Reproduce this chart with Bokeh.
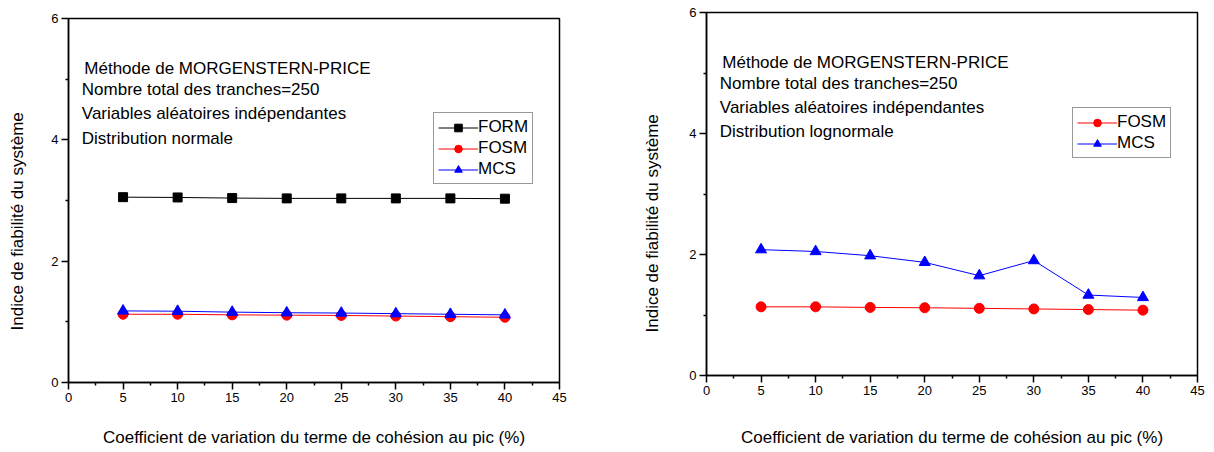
from bokeh.plotting import figure
from bokeh.layouts import row
from bokeh.models import FixedTicker, Label, Legend, LegendItem, Title
from bokeh.embed import file_html
from bokeh.resources import INLINE

# ---- data ----
cov = [5, 10, 15, 20, 25, 30, 35, 40]

# left chart : Distribution normale
left_form = [3.055, 3.05, 3.04, 3.035, 3.035, 3.035, 3.035, 3.03]
left_fosm = [1.125, 1.125, 1.115, 1.11, 1.105, 1.095, 1.085, 1.075]
left_mcs = [1.18, 1.175, 1.16, 1.15, 1.145, 1.135, 1.125, 1.115]

# right chart : Distribution lognormale
right_fosm = [1.135, 1.135, 1.125, 1.12, 1.11, 1.10, 1.09, 1.08]
right_mcs = [2.08, 2.05, 1.98, 1.87, 1.65, 1.90, 1.33, 1.29]

x_ticks = [0, 5, 10, 15, 20, 25, 30, 35, 40, 45]
x_minor = [2.5, 7.5, 12.5, 17.5, 22.5, 27.5, 32.5, 37.5, 42.5]
y_ticks = [0, 2, 4, 6]
y_minor = [1, 3, 5]

x_title = "Coefficient de variation du terme de cohésion au pic (%)"
y_title = "Indice de fiabilité du système"
notes_left = ["Méthode  de MORGENSTERN-PRICE", "Nombre total des tranches=250",
              "Variables aléatoires indépendantes", "Distribution normale"]
notes_right = ["Méthode  de MORGENSTERN-PRICE", "Nombre total des tranches=250",
               "Variables aléatoires indépendantes", "Distribution lognormale"]

FONT = "Liberation Sans"


def base_fig(width, bl, br, bt, bb, xlab_standoff):
    p = figure(width=width, height=452, x_range=(0, 45), y_range=(0, 6),
               output_backend="svg", toolbar_location=None,
               min_border_left=bl, min_border_right=br,
               min_border_top=bt, min_border_bottom=bb)
    p.frame_align = False
    p.grid.visible = False
    p.outline_line_color = "black"
    p.outline_line_width = 1.5
    p.background_fill_color = "white"
    p.border_fill_color = "white"
    p.xaxis.ticker = FixedTicker(ticks=x_ticks, minor_ticks=x_minor)
    p.yaxis.ticker = FixedTicker(ticks=y_ticks, minor_ticks=y_minor)
    for ax in (p.xaxis[0], p.yaxis[0]):
        ax.axis_line_width = 1.5
        ax.axis_line_color = "black"
        ax.major_tick_line_color = "black"
        ax.minor_tick_line_color = "black"
        ax.major_tick_line_width = 1.5
        ax.minor_tick_line_width = 1.5
        ax.major_tick_out = 7
        ax.major_tick_in = 0
        ax.minor_tick_out = 3
        ax.minor_tick_in = 0
        ax.major_label_text_font = FONT
        ax.major_label_text_font_size = "13px"
        ax.major_label_text_color = "black"
        ax.major_label_standoff = 3
    p.xaxis.axis_label = x_title
    p.xaxis.axis_label_text_font = FONT
    p.xaxis.axis_label_text_font_size = "17px"
    p.xaxis.axis_label_text_font_style = "normal"
    p.xaxis.axis_label_text_color = "black"
    p.xaxis.axis_label_standoff = xlab_standoff
    return p


def add_notes(p, notes):
    ys = [5.17, 4.83, 4.43, 4.03]
    xs = [1.45, 1.22, 1.22, 1.22]
    for t, x, y in zip(notes, xs, ys):
        p.add_layout(Label(x=x, y=y, text=t, text_font=FONT, text_font_size="17px",
                           text_baseline="middle", text_align="left", text_color="black"))


def add_ylabel(p, standoff, offset, valign):
    p.add_layout(Title(text=y_title, align="left", offset=offset, standoff=standoff,
                       vertical_align=valign,
                       text_font=FONT, text_font_size="17px", text_font_style="normal",
                       text_color="black"), "left")


def series(p, y, color, marker, size):
    ln = p.line(cov, y, line_color=color, line_width=1)
    sc = p.scatter(cov, y, marker=marker, size=size, fill_color=color, line_color=color)
    return [ln, sc]


def style_legend(leg, loc):
    leg.location = loc
    leg.label_text_font = FONT
    leg.label_text_font_size = "17px"
    leg.label_text_color = "black"
    leg.border_line_color = "#333333"
    leg.border_line_width = 1.5
    leg.background_fill_color = "white"
    leg.background_fill_alpha = 1
    leg.glyph_width = 40
    leg.glyph_height = 19
    leg.label_height = 19
    leg.label_standoff = 0
    leg.padding = 4
    leg.spacing = 1
    leg.margin = 0


# ---- left chart ----
p1 = base_fig(600, 68, 41, 18, 70, 23)
# blank spacer label on the y axis so that the title sits further left
p1.yaxis.axis_label = "\u00a0"
p1.yaxis.axis_label_text_font = FONT
p1.yaxis.axis_label_text_font_size = "17px"
p1.yaxis.axis_label_standoff = 0
r_form = series(p1, left_form, "black", "square", 9)
r_fosm = series(p1, left_fosm, "red", "circle", 10)
r_mcs = series(p1, left_mcs, "blue", "triangle", 11)
leg1 = Legend(items=[LegendItem(label="FORM", renderers=r_form),
                     LegendItem(label="FOSM", renderers=r_fosm),
                     LegendItem(label="MCS", renderers=r_mcs)])
style_legend(leg1, (365, 198))
p1.add_layout(leg1, "center")
add_notes(p1, notes_left)
add_ylabel(p1, 0, 52, "bottom")

# ---- right chart ----
p2 = base_fig(614, 106, 17, 12, 77, 30)
r2_fosm = series(p2, right_fosm, "red", "circle", 10)
r2_mcs = series(p2, right_mcs, "blue", "triangle", 11)
leg2 = Legend(items=[LegendItem(label="FOSM", renderers=r2_fosm),
                     LegendItem(label="MCS", renderers=r2_mcs)])
style_legend(leg2, (366, 217))
p2.add_layout(leg2, "center")
add_notes(p2, notes_right)
add_ylabel(p2, 49, 43, "bottom")

layout = row(p1, p2, spacing=0)
open("out.html", "w").write(file_html(layout, INLINE))
